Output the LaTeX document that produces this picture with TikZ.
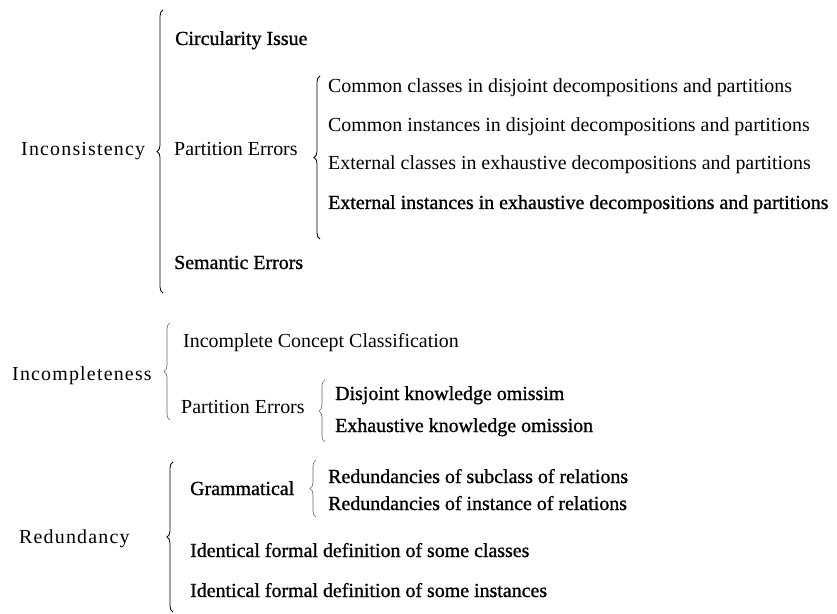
\documentclass[tikz,border=0pt]{standalone}
\usepackage{fontspec}
\setmainfont{Liberation Serif}
\newfontfamily\heavyfont[FakeBold=1]{Liberation Serif}
\newfontfamily\spacedfont[LetterSpace=6]{Liberation Serif}
\usetikzlibrary{decorations.pathreplacing}
\begin{document}
\begin{tikzpicture}[x=1bp,y=-1bp,
  lbl/.style={anchor=west,inner sep=0pt,text height=14bp,text depth=4bp,font=\fontsize{20}{24}\selectfont},
  hlbl/.style={lbl,font=\fontsize{20}{24}\heavyfont},
  toplbl/.style={lbl,font=\fontsize{20}{24}\spacedfont},
  curly/.style={decorate,decoration={brace,amplitude=6bp,aspect=0.5},line width=0.8bp},
  faint/.style={curly,draw=black!60,line width=0.6bp},
]
\useasboundingbox (0,0) rectangle (837,614);

% --- Inconsistency
\node[toplbl] (inc) at (21,151) {Inconsistency};
\coordinate (incT) at (163,10);
\coordinate (incB) at (163,293);
\draw[curly] (incB) -- (incT);
\node[hlbl] (circ) at (175,40) {Circularity Issue};
\node[lbl] (part1) at (174,151) {Partition Errors};
\coordinate (p1T) at (320,76);
\coordinate (p1B) at (320,239);
\draw[curly] (p1B) -- (p1T);
\node[lbl] (cc) at (328,88) {Common classes in disjoint decompositions and partitions};
\node[lbl] (ci) at (328,127) {Common instances in disjoint decompositions and partitions};
\node[lbl] (ec) at (328,165) {External classes in exhaustive decompositions and partitions};
\node[hlbl] (ei) at (328,204) {External instances in exhaustive decompositions and partitions};
\node[hlbl] (sem) at (174,264) {Semantic Errors};

% --- Incompleteness
\node[toplbl] (incomp) at (12,375) {Incompleteness};
\coordinate (icT) at (170,323);
\coordinate (icB) at (170,420);
\draw[faint] (icB) -- (icT);
\node[lbl] (icc) at (183,342) {Incomplete Concept Classification};
\node[lbl] (part2) at (181,408) {Partition Errors};
\coordinate (p2T) at (325,380);
\coordinate (p2B) at (325,442);
\draw[faint] (p2B) -- (p2T);
\node[hlbl] (dko) at (335,395) {Disjoint knowledge omissim};
\node[hlbl] (eko) at (335,427) {Exhaustive knowledge omission};

% --- Redundancy
\node[toplbl] (red) at (19,538) {Redundancy};
\coordinate (rdT) at (173,462);
\coordinate (rdB) at (173,612);
\draw[curly] (rdB) -- (rdT);
\node[hlbl] (gram) at (190,490) {Grammatical};
\coordinate (grT) at (316,460);
\coordinate (grB) at (316,517);
\draw[faint] (grB) -- (grT);
\node[hlbl] (rsub) at (328,478) {Redundancies of subclass of relations};
\node[hlbl] (rins) at (328,505) {Redundancies of instance of relations};
\node[hlbl] (idc) at (190,552) {Identical formal definition of some classes};
\node[hlbl] (idi) at (190,592) {Identical formal definition of some instances};
\end{tikzpicture}
\end{document}
